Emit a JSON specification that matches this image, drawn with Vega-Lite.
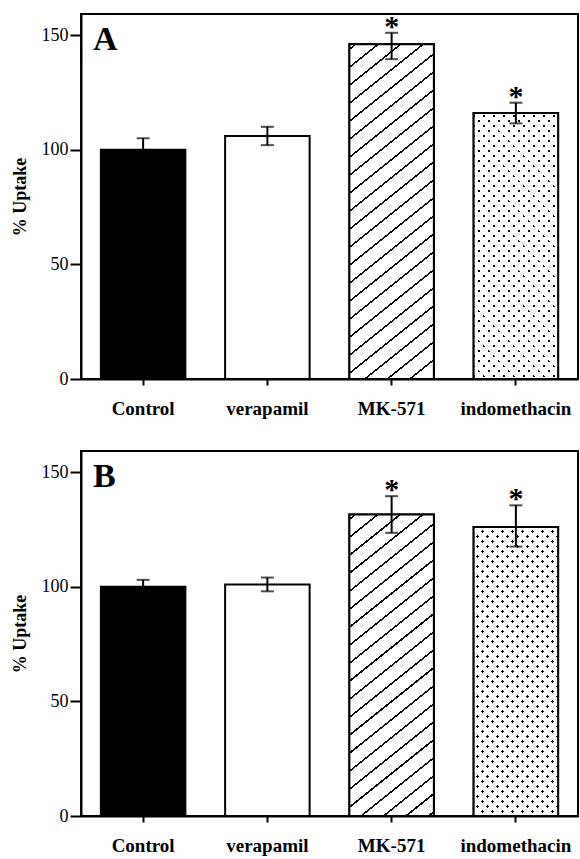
{
  "$schema": "https://vega.github.io/schema/vega-lite/v6.json",
  "padding": {"left": 10, "top": 10, "right": 0, "bottom": 0},
  "background": "white",
  "spacing": 31,
  "config": {
    "font": "Liberation Serif",
    "view": {"stroke": "black", "strokeWidth": 2},
    "axis": {"grid": false, "domainColor": "black", "domainWidth": 2, "tickColor": "black", "tickWidth": 2, "labelColor": "black", "labelFont": "Liberation Serif", "labelFontSize": 18, "titleFont": "Liberation Serif", "titleFontSize": 18, "titleFontWeight": "bold", "titleColor": "black"},
    "axisX": {"labelFont": "Liberation Serif", "labelFontWeight": "bold", "labelFontSize": 19, "labelAngle": 0, "tickSize": 6, "labelPadding": 14},
    "axisY": {"labelFont": "Liberation Serif", "titleFont": "Liberation Serif", "tickSize": 11, "labelPadding": 2, "titlePadding": 12}
  },
  "datasets": {
    "A": [
      {"group": "Control", "mean": 100, "lower": 95, "upper": 105, "sig": ""},
      {"group": "verapamil", "mean": 106, "lower": 102, "upper": 110, "sig": ""},
      {"group": "MK-571", "mean": 146, "lower": 139.5, "upper": 151, "sig": "*"},
      {"group": "indomethacin", "mean": 116, "lower": 111.5, "upper": 120.5, "sig": "*"}
    ],
    "B": [
      {"group": "Control", "mean": 100, "lower": 97, "upper": 103, "sig": ""},
      {"group": "verapamil", "mean": 101, "lower": 98, "upper": 104, "sig": ""},
      {"group": "MK-571", "mean": 131.5, "lower": 123.5, "upper": 139.5, "sig": "*"},
      {"group": "indomethacin", "mean": 126, "lower": 117.5, "upper": 135.5, "sig": "*"}
    ]
  },
  "vconcat": [
    {
      "width": 497,
      "height": 365,
      "data": {"name": "A"},
      "encoding": {
        "x": {"field": "group", "type": "nominal", "sort": ["Control", "verapamil", "MK-571", "indomethacin"], "scale": {"paddingInner": 0.32, "paddingOuter": 0.16}, "title": null}
      },
      "layer": [
        {
          "mark": {"type": "bar", "stroke": "black", "strokeWidth": 2},
          "encoding": {
            "y": {"field": "mean", "type": "quantitative", "title": "% Uptake", "scale": {"domain": [0, 159.2], "nice": false}, "axis": {"values": [0, 50, 100, 150]}},
            "fill": {"condition": {"test": "datum.group === 'Control'", "value": "black"}, "value": "white"}
          }
        },
        {
          "transform": [{"filter": "datum.group === 'MK-571'"}],
          "mark": {"type": "bar", "stroke": "black", "strokeWidth": 2, "fill": {"gradient": "linear", "x1": 0, "y1": 0, "x2": 0.2333, "y2": 1.1549, "stops": [
            {"offset": 0.0100, "color": "#fff"}, {"offset": 0.0100, "color": "#000"}, {"offset": 0.0151, "color": "#000"}, {"offset": 0.0151, "color": "#fff"},
            {"offset": 0.0547, "color": "#fff"}, {"offset": 0.0547, "color": "#000"}, {"offset": 0.0598, "color": "#000"}, {"offset": 0.0598, "color": "#fff"},
            {"offset": 0.0995, "color": "#fff"}, {"offset": 0.0995, "color": "#000"}, {"offset": 0.1046, "color": "#000"}, {"offset": 0.1046, "color": "#fff"},
            {"offset": 0.1442, "color": "#fff"}, {"offset": 0.1442, "color": "#000"}, {"offset": 0.1493, "color": "#000"}, {"offset": 0.1493, "color": "#fff"},
            {"offset": 0.1890, "color": "#fff"}, {"offset": 0.1890, "color": "#000"}, {"offset": 0.1941, "color": "#000"}, {"offset": 0.1941, "color": "#fff"},
            {"offset": 0.2337, "color": "#fff"}, {"offset": 0.2337, "color": "#000"}, {"offset": 0.2388, "color": "#000"}, {"offset": 0.2388, "color": "#fff"},
            {"offset": 0.2784, "color": "#fff"}, {"offset": 0.2784, "color": "#000"}, {"offset": 0.2835, "color": "#000"}, {"offset": 0.2835, "color": "#fff"},
            {"offset": 0.3232, "color": "#fff"}, {"offset": 0.3232, "color": "#000"}, {"offset": 0.3283, "color": "#000"}, {"offset": 0.3283, "color": "#fff"},
            {"offset": 0.3679, "color": "#fff"}, {"offset": 0.3679, "color": "#000"}, {"offset": 0.3730, "color": "#000"}, {"offset": 0.3730, "color": "#fff"},
            {"offset": 0.4127, "color": "#fff"}, {"offset": 0.4127, "color": "#000"}, {"offset": 0.4178, "color": "#000"}, {"offset": 0.4178, "color": "#fff"},
            {"offset": 0.4574, "color": "#fff"}, {"offset": 0.4574, "color": "#000"}, {"offset": 0.4625, "color": "#000"}, {"offset": 0.4625, "color": "#fff"},
            {"offset": 0.5021, "color": "#fff"}, {"offset": 0.5021, "color": "#000"}, {"offset": 0.5072, "color": "#000"}, {"offset": 0.5072, "color": "#fff"},
            {"offset": 0.5469, "color": "#fff"}, {"offset": 0.5469, "color": "#000"}, {"offset": 0.5520, "color": "#000"}, {"offset": 0.5520, "color": "#fff"},
            {"offset": 0.5916, "color": "#fff"}, {"offset": 0.5916, "color": "#000"}, {"offset": 0.5967, "color": "#000"}, {"offset": 0.5967, "color": "#fff"},
            {"offset": 0.6364, "color": "#fff"}, {"offset": 0.6364, "color": "#000"}, {"offset": 0.6415, "color": "#000"}, {"offset": 0.6415, "color": "#fff"},
            {"offset": 0.6811, "color": "#fff"}, {"offset": 0.6811, "color": "#000"}, {"offset": 0.6862, "color": "#000"}, {"offset": 0.6862, "color": "#fff"},
            {"offset": 0.7258, "color": "#fff"}, {"offset": 0.7258, "color": "#000"}, {"offset": 0.7309, "color": "#000"}, {"offset": 0.7309, "color": "#fff"},
            {"offset": 0.7706, "color": "#fff"}, {"offset": 0.7706, "color": "#000"}, {"offset": 0.7757, "color": "#000"}, {"offset": 0.7757, "color": "#fff"},
            {"offset": 0.8153, "color": "#fff"}, {"offset": 0.8153, "color": "#000"}, {"offset": 0.8204, "color": "#000"}, {"offset": 0.8204, "color": "#fff"},
            {"offset": 0.8601, "color": "#fff"}, {"offset": 0.8601, "color": "#000"}, {"offset": 0.8652, "color": "#000"}, {"offset": 0.8652, "color": "#fff"},
            {"offset": 0.9048, "color": "#fff"}, {"offset": 0.9048, "color": "#000"}, {"offset": 0.9099, "color": "#000"}, {"offset": 0.9099, "color": "#fff"},
            {"offset": 0.9495, "color": "#fff"}, {"offset": 0.9495, "color": "#000"}, {"offset": 0.9546, "color": "#000"}, {"offset": 0.9546, "color": "#fff"},
            {"offset": 0.9943, "color": "#fff"}, {"offset": 0.9943, "color": "#000"}, {"offset": 0.9994, "color": "#000"}, {"offset": 0.9994, "color": "#fff"}
          ]}},
          "encoding": {
            "y": {"field": "mean", "type": "quantitative", "title": "% Uptake", "scale": {"domain": [0, 159.2], "nice": false}, "axis": {"values": [0, 50, 100, 150]}}
          }
        },
        {
          "transform": [{"filter": "datum.group === 'indomethacin'"}],
          "mark": {"type": "bar", "strokeWidth": 0, "fill": {"gradient": "linear", "x1": 0, "y1": 0, "x2": 0.3803, "y2": 1.1969, "stops": [
            {"offset": 0.0050, "color": "#fff"}, {"offset": 0.0050, "color": "#000"}, {"offset": 0.0125, "color": "#000"}, {"offset": 0.0125, "color": "#fff"},
            {"offset": 0.0335, "color": "#fff"}, {"offset": 0.0335, "color": "#000"}, {"offset": 0.0410, "color": "#000"}, {"offset": 0.0410, "color": "#fff"},
            {"offset": 0.0621, "color": "#fff"}, {"offset": 0.0621, "color": "#000"}, {"offset": 0.0696, "color": "#000"}, {"offset": 0.0696, "color": "#fff"},
            {"offset": 0.0906, "color": "#fff"}, {"offset": 0.0906, "color": "#000"}, {"offset": 0.0981, "color": "#000"}, {"offset": 0.0981, "color": "#fff"},
            {"offset": 0.1191, "color": "#fff"}, {"offset": 0.1191, "color": "#000"}, {"offset": 0.1266, "color": "#000"}, {"offset": 0.1266, "color": "#fff"},
            {"offset": 0.1477, "color": "#fff"}, {"offset": 0.1477, "color": "#000"}, {"offset": 0.1552, "color": "#000"}, {"offset": 0.1552, "color": "#fff"},
            {"offset": 0.1762, "color": "#fff"}, {"offset": 0.1762, "color": "#000"}, {"offset": 0.1837, "color": "#000"}, {"offset": 0.1837, "color": "#fff"},
            {"offset": 0.2047, "color": "#fff"}, {"offset": 0.2047, "color": "#000"}, {"offset": 0.2122, "color": "#000"}, {"offset": 0.2122, "color": "#fff"},
            {"offset": 0.2333, "color": "#fff"}, {"offset": 0.2333, "color": "#000"}, {"offset": 0.2408, "color": "#000"}, {"offset": 0.2408, "color": "#fff"},
            {"offset": 0.2618, "color": "#fff"}, {"offset": 0.2618, "color": "#000"}, {"offset": 0.2693, "color": "#000"}, {"offset": 0.2693, "color": "#fff"},
            {"offset": 0.2904, "color": "#fff"}, {"offset": 0.2904, "color": "#000"}, {"offset": 0.2979, "color": "#000"}, {"offset": 0.2979, "color": "#fff"},
            {"offset": 0.3189, "color": "#fff"}, {"offset": 0.3189, "color": "#000"}, {"offset": 0.3264, "color": "#000"}, {"offset": 0.3264, "color": "#fff"},
            {"offset": 0.3474, "color": "#fff"}, {"offset": 0.3474, "color": "#000"}, {"offset": 0.3549, "color": "#000"}, {"offset": 0.3549, "color": "#fff"},
            {"offset": 0.3760, "color": "#fff"}, {"offset": 0.3760, "color": "#000"}, {"offset": 0.3835, "color": "#000"}, {"offset": 0.3835, "color": "#fff"},
            {"offset": 0.4045, "color": "#fff"}, {"offset": 0.4045, "color": "#000"}, {"offset": 0.4120, "color": "#000"}, {"offset": 0.4120, "color": "#fff"},
            {"offset": 0.4330, "color": "#fff"}, {"offset": 0.4330, "color": "#000"}, {"offset": 0.4405, "color": "#000"}, {"offset": 0.4405, "color": "#fff"},
            {"offset": 0.4616, "color": "#fff"}, {"offset": 0.4616, "color": "#000"}, {"offset": 0.4691, "color": "#000"}, {"offset": 0.4691, "color": "#fff"},
            {"offset": 0.4901, "color": "#fff"}, {"offset": 0.4901, "color": "#000"}, {"offset": 0.4976, "color": "#000"}, {"offset": 0.4976, "color": "#fff"},
            {"offset": 0.5186, "color": "#fff"}, {"offset": 0.5186, "color": "#000"}, {"offset": 0.5261, "color": "#000"}, {"offset": 0.5261, "color": "#fff"},
            {"offset": 0.5472, "color": "#fff"}, {"offset": 0.5472, "color": "#000"}, {"offset": 0.5547, "color": "#000"}, {"offset": 0.5547, "color": "#fff"},
            {"offset": 0.5757, "color": "#fff"}, {"offset": 0.5757, "color": "#000"}, {"offset": 0.5832, "color": "#000"}, {"offset": 0.5832, "color": "#fff"},
            {"offset": 0.6042, "color": "#fff"}, {"offset": 0.6042, "color": "#000"}, {"offset": 0.6117, "color": "#000"}, {"offset": 0.6117, "color": "#fff"},
            {"offset": 0.6328, "color": "#fff"}, {"offset": 0.6328, "color": "#000"}, {"offset": 0.6403, "color": "#000"}, {"offset": 0.6403, "color": "#fff"},
            {"offset": 0.6613, "color": "#fff"}, {"offset": 0.6613, "color": "#000"}, {"offset": 0.6688, "color": "#000"}, {"offset": 0.6688, "color": "#fff"},
            {"offset": 0.6898, "color": "#fff"}, {"offset": 0.6898, "color": "#000"}, {"offset": 0.6973, "color": "#000"}, {"offset": 0.6973, "color": "#fff"},
            {"offset": 0.7184, "color": "#fff"}, {"offset": 0.7184, "color": "#000"}, {"offset": 0.7259, "color": "#000"}, {"offset": 0.7259, "color": "#fff"},
            {"offset": 0.7469, "color": "#fff"}, {"offset": 0.7469, "color": "#000"}, {"offset": 0.7544, "color": "#000"}, {"offset": 0.7544, "color": "#fff"},
            {"offset": 0.7754, "color": "#fff"}, {"offset": 0.7754, "color": "#000"}, {"offset": 0.7829, "color": "#000"}, {"offset": 0.7829, "color": "#fff"},
            {"offset": 0.8040, "color": "#fff"}, {"offset": 0.8040, "color": "#000"}, {"offset": 0.8115, "color": "#000"}, {"offset": 0.8115, "color": "#fff"},
            {"offset": 0.8325, "color": "#fff"}, {"offset": 0.8325, "color": "#000"}, {"offset": 0.8400, "color": "#000"}, {"offset": 0.8400, "color": "#fff"},
            {"offset": 0.8611, "color": "#fff"}, {"offset": 0.8611, "color": "#000"}, {"offset": 0.8686, "color": "#000"}, {"offset": 0.8686, "color": "#fff"},
            {"offset": 0.8896, "color": "#fff"}, {"offset": 0.8896, "color": "#000"}, {"offset": 0.8971, "color": "#000"}, {"offset": 0.8971, "color": "#fff"},
            {"offset": 0.9181, "color": "#fff"}, {"offset": 0.9181, "color": "#000"}, {"offset": 0.9256, "color": "#000"}, {"offset": 0.9256, "color": "#fff"},
            {"offset": 0.9467, "color": "#fff"}, {"offset": 0.9467, "color": "#000"}, {"offset": 0.9542, "color": "#000"}, {"offset": 0.9542, "color": "#fff"},
            {"offset": 0.9752, "color": "#fff"}, {"offset": 0.9752, "color": "#000"}, {"offset": 0.9827, "color": "#000"}, {"offset": 0.9827, "color": "#fff"}
          ]}},
          "encoding": {
            "y": {"field": "mean", "type": "quantitative", "title": "% Uptake", "scale": {"domain": [0, 159.2], "nice": false}, "axis": {"values": [0, 50, 100, 150]}}
          }
        },
        {
          "transform": [{"filter": "datum.group === 'indomethacin'"}],
          "mark": {"type": "bar", "stroke": "black", "strokeWidth": 2, "fill": {"gradient": "linear", "x1": 0, "y1": 1, "x2": 0.3803, "y2": -0.1969, "stops": [
            {"offset": 0.0050, "color": "#fff"}, {"offset": 0.0050, "color": "rgba(255,255,255,0)"}, {"offset": 0.0125, "color": "rgba(255,255,255,0)"}, {"offset": 0.0125, "color": "#fff"},
            {"offset": 0.0335, "color": "#fff"}, {"offset": 0.0335, "color": "rgba(255,255,255,0)"}, {"offset": 0.0410, "color": "rgba(255,255,255,0)"}, {"offset": 0.0410, "color": "#fff"},
            {"offset": 0.0621, "color": "#fff"}, {"offset": 0.0621, "color": "rgba(255,255,255,0)"}, {"offset": 0.0696, "color": "rgba(255,255,255,0)"}, {"offset": 0.0696, "color": "#fff"},
            {"offset": 0.0906, "color": "#fff"}, {"offset": 0.0906, "color": "rgba(255,255,255,0)"}, {"offset": 0.0981, "color": "rgba(255,255,255,0)"}, {"offset": 0.0981, "color": "#fff"},
            {"offset": 0.1191, "color": "#fff"}, {"offset": 0.1191, "color": "rgba(255,255,255,0)"}, {"offset": 0.1266, "color": "rgba(255,255,255,0)"}, {"offset": 0.1266, "color": "#fff"},
            {"offset": 0.1477, "color": "#fff"}, {"offset": 0.1477, "color": "rgba(255,255,255,0)"}, {"offset": 0.1552, "color": "rgba(255,255,255,0)"}, {"offset": 0.1552, "color": "#fff"},
            {"offset": 0.1762, "color": "#fff"}, {"offset": 0.1762, "color": "rgba(255,255,255,0)"}, {"offset": 0.1837, "color": "rgba(255,255,255,0)"}, {"offset": 0.1837, "color": "#fff"},
            {"offset": 0.2047, "color": "#fff"}, {"offset": 0.2047, "color": "rgba(255,255,255,0)"}, {"offset": 0.2122, "color": "rgba(255,255,255,0)"}, {"offset": 0.2122, "color": "#fff"},
            {"offset": 0.2333, "color": "#fff"}, {"offset": 0.2333, "color": "rgba(255,255,255,0)"}, {"offset": 0.2408, "color": "rgba(255,255,255,0)"}, {"offset": 0.2408, "color": "#fff"},
            {"offset": 0.2618, "color": "#fff"}, {"offset": 0.2618, "color": "rgba(255,255,255,0)"}, {"offset": 0.2693, "color": "rgba(255,255,255,0)"}, {"offset": 0.2693, "color": "#fff"},
            {"offset": 0.2904, "color": "#fff"}, {"offset": 0.2904, "color": "rgba(255,255,255,0)"}, {"offset": 0.2979, "color": "rgba(255,255,255,0)"}, {"offset": 0.2979, "color": "#fff"},
            {"offset": 0.3189, "color": "#fff"}, {"offset": 0.3189, "color": "rgba(255,255,255,0)"}, {"offset": 0.3264, "color": "rgba(255,255,255,0)"}, {"offset": 0.3264, "color": "#fff"},
            {"offset": 0.3474, "color": "#fff"}, {"offset": 0.3474, "color": "rgba(255,255,255,0)"}, {"offset": 0.3549, "color": "rgba(255,255,255,0)"}, {"offset": 0.3549, "color": "#fff"},
            {"offset": 0.3760, "color": "#fff"}, {"offset": 0.3760, "color": "rgba(255,255,255,0)"}, {"offset": 0.3835, "color": "rgba(255,255,255,0)"}, {"offset": 0.3835, "color": "#fff"},
            {"offset": 0.4045, "color": "#fff"}, {"offset": 0.4045, "color": "rgba(255,255,255,0)"}, {"offset": 0.4120, "color": "rgba(255,255,255,0)"}, {"offset": 0.4120, "color": "#fff"},
            {"offset": 0.4330, "color": "#fff"}, {"offset": 0.4330, "color": "rgba(255,255,255,0)"}, {"offset": 0.4405, "color": "rgba(255,255,255,0)"}, {"offset": 0.4405, "color": "#fff"},
            {"offset": 0.4616, "color": "#fff"}, {"offset": 0.4616, "color": "rgba(255,255,255,0)"}, {"offset": 0.4691, "color": "rgba(255,255,255,0)"}, {"offset": 0.4691, "color": "#fff"},
            {"offset": 0.4901, "color": "#fff"}, {"offset": 0.4901, "color": "rgba(255,255,255,0)"}, {"offset": 0.4976, "color": "rgba(255,255,255,0)"}, {"offset": 0.4976, "color": "#fff"},
            {"offset": 0.5186, "color": "#fff"}, {"offset": 0.5186, "color": "rgba(255,255,255,0)"}, {"offset": 0.5261, "color": "rgba(255,255,255,0)"}, {"offset": 0.5261, "color": "#fff"},
            {"offset": 0.5472, "color": "#fff"}, {"offset": 0.5472, "color": "rgba(255,255,255,0)"}, {"offset": 0.5547, "color": "rgba(255,255,255,0)"}, {"offset": 0.5547, "color": "#fff"},
            {"offset": 0.5757, "color": "#fff"}, {"offset": 0.5757, "color": "rgba(255,255,255,0)"}, {"offset": 0.5832, "color": "rgba(255,255,255,0)"}, {"offset": 0.5832, "color": "#fff"},
            {"offset": 0.6042, "color": "#fff"}, {"offset": 0.6042, "color": "rgba(255,255,255,0)"}, {"offset": 0.6117, "color": "rgba(255,255,255,0)"}, {"offset": 0.6117, "color": "#fff"},
            {"offset": 0.6328, "color": "#fff"}, {"offset": 0.6328, "color": "rgba(255,255,255,0)"}, {"offset": 0.6403, "color": "rgba(255,255,255,0)"}, {"offset": 0.6403, "color": "#fff"},
            {"offset": 0.6613, "color": "#fff"}, {"offset": 0.6613, "color": "rgba(255,255,255,0)"}, {"offset": 0.6688, "color": "rgba(255,255,255,0)"}, {"offset": 0.6688, "color": "#fff"},
            {"offset": 0.6898, "color": "#fff"}, {"offset": 0.6898, "color": "rgba(255,255,255,0)"}, {"offset": 0.6973, "color": "rgba(255,255,255,0)"}, {"offset": 0.6973, "color": "#fff"},
            {"offset": 0.7184, "color": "#fff"}, {"offset": 0.7184, "color": "rgba(255,255,255,0)"}, {"offset": 0.7259, "color": "rgba(255,255,255,0)"}, {"offset": 0.7259, "color": "#fff"},
            {"offset": 0.7469, "color": "#fff"}, {"offset": 0.7469, "color": "rgba(255,255,255,0)"}, {"offset": 0.7544, "color": "rgba(255,255,255,0)"}, {"offset": 0.7544, "color": "#fff"},
            {"offset": 0.7754, "color": "#fff"}, {"offset": 0.7754, "color": "rgba(255,255,255,0)"}, {"offset": 0.7829, "color": "rgba(255,255,255,0)"}, {"offset": 0.7829, "color": "#fff"},
            {"offset": 0.8040, "color": "#fff"}, {"offset": 0.8040, "color": "rgba(255,255,255,0)"}, {"offset": 0.8115, "color": "rgba(255,255,255,0)"}, {"offset": 0.8115, "color": "#fff"},
            {"offset": 0.8325, "color": "#fff"}, {"offset": 0.8325, "color": "rgba(255,255,255,0)"}, {"offset": 0.8400, "color": "rgba(255,255,255,0)"}, {"offset": 0.8400, "color": "#fff"},
            {"offset": 0.8611, "color": "#fff"}, {"offset": 0.8611, "color": "rgba(255,255,255,0)"}, {"offset": 0.8686, "color": "rgba(255,255,255,0)"}, {"offset": 0.8686, "color": "#fff"},
            {"offset": 0.8896, "color": "#fff"}, {"offset": 0.8896, "color": "rgba(255,255,255,0)"}, {"offset": 0.8971, "color": "rgba(255,255,255,0)"}, {"offset": 0.8971, "color": "#fff"},
            {"offset": 0.9181, "color": "#fff"}, {"offset": 0.9181, "color": "rgba(255,255,255,0)"}, {"offset": 0.9256, "color": "rgba(255,255,255,0)"}, {"offset": 0.9256, "color": "#fff"},
            {"offset": 0.9467, "color": "#fff"}, {"offset": 0.9467, "color": "rgba(255,255,255,0)"}, {"offset": 0.9542, "color": "rgba(255,255,255,0)"}, {"offset": 0.9542, "color": "#fff"},
            {"offset": 0.9752, "color": "#fff"}, {"offset": 0.9752, "color": "rgba(255,255,255,0)"}, {"offset": 0.9827, "color": "rgba(255,255,255,0)"}, {"offset": 0.9827, "color": "#fff"}
          ]}},
          "encoding": {
            "y": {"field": "mean", "type": "quantitative", "title": "% Uptake", "scale": {"domain": [0, 159.2], "nice": false}, "axis": {"values": [0, 50, 100, 150]}}
          }
        },
        {
          "mark": {"type": "rule", "color": "black", "strokeWidth": 2},
          "encoding": {
            "y": {"field": "lower", "type": "quantitative", "title": "% Uptake", "scale": {"domain": [0, 159.2], "nice": false}, "axis": {"values": [0, 50, 100, 150]}},
            "y2": {"field": "upper"}
          }
        },
        {
          "mark": {"type": "tick", "color": "black", "size": 13, "thickness": 2},
          "encoding": {
            "y": {"field": "upper", "type": "quantitative", "title": "% Uptake", "scale": {"domain": [0, 159.2], "nice": false}, "axis": {"values": [0, 50, 100, 150]}}
          }
        },
        {
          "mark": {"type": "tick", "color": "black", "size": 13, "thickness": 2},
          "encoding": {
            "y": {"field": "lower", "type": "quantitative", "title": "% Uptake", "scale": {"domain": [0, 159.2], "nice": false}, "axis": {"values": [0, 50, 100, 150]}}
          }
        },
        {
          "mark": {"type": "text", "font": "Liberation Serif", "fontWeight": "bold", "fontSize": 30, "color": "black", "baseline": "alphabetic", "dy": 3},
          "encoding": {
            "y": {"field": "upper", "type": "quantitative", "title": "% Uptake", "scale": {"domain": [0, 159.2], "nice": false}, "axis": {"values": [0, 50, 100, 150]}},
            "text": {"field": "sig"}
          }
        },
        {
          "data": {"values": [{"panel": "A"}]},
          "mark": {"type": "text", "font": "Liberation Serif", "fontWeight": "bold", "fontSize": 34, "color": "black", "baseline": "alphabetic", "align": "left", "dx": -8, "dy": 15},
          "encoding": {
            "x": {"datum": "Control", "bandPosition": 0},
            "y": {"datum": 150, "type": "quantitative", "title": "% Uptake", "scale": {"domain": [0, 159.2], "nice": false}, "axis": {"values": [0, 50, 100, 150]}},
            "text": {"field": "panel"}
          }
        }
      ]
    },
    {
      "width": 497,
      "height": 365,
      "data": {"name": "B"},
      "encoding": {
        "x": {"field": "group", "type": "nominal", "sort": ["Control", "verapamil", "MK-571", "indomethacin"], "scale": {"paddingInner": 0.32, "paddingOuter": 0.16}, "title": null}
      },
      "layer": [
        {
          "mark": {"type": "bar", "stroke": "black", "strokeWidth": 2},
          "encoding": {
            "y": {"field": "mean", "type": "quantitative", "title": "% Uptake", "scale": {"domain": [0, 159.2], "nice": false}, "axis": {"values": [0, 50, 100, 150]}},
            "fill": {"condition": {"test": "datum.group === 'Control'", "value": "black"}, "value": "white"}
          }
        },
        {
          "transform": [{"filter": "datum.group === 'MK-571'"}],
          "mark": {"type": "bar", "stroke": "black", "strokeWidth": 2, "fill": {"gradient": "linear", "x1": 0, "y1": 0, "x2": 0.2613, "y2": 1.1656, "stops": [
            {"offset": 0.0100, "color": "#fff"}, {"offset": 0.0100, "color": "#000"}, {"offset": 0.0156, "color": "#000"}, {"offset": 0.0156, "color": "#fff"},
            {"offset": 0.0588, "color": "#fff"}, {"offset": 0.0588, "color": "#000"}, {"offset": 0.0644, "color": "#000"}, {"offset": 0.0644, "color": "#fff"},
            {"offset": 0.1075, "color": "#fff"}, {"offset": 0.1075, "color": "#000"}, {"offset": 0.1131, "color": "#000"}, {"offset": 0.1131, "color": "#fff"},
            {"offset": 0.1563, "color": "#fff"}, {"offset": 0.1563, "color": "#000"}, {"offset": 0.1619, "color": "#000"}, {"offset": 0.1619, "color": "#fff"},
            {"offset": 0.2051, "color": "#fff"}, {"offset": 0.2051, "color": "#000"}, {"offset": 0.2107, "color": "#000"}, {"offset": 0.2107, "color": "#fff"},
            {"offset": 0.2539, "color": "#fff"}, {"offset": 0.2539, "color": "#000"}, {"offset": 0.2595, "color": "#000"}, {"offset": 0.2595, "color": "#fff"},
            {"offset": 0.3026, "color": "#fff"}, {"offset": 0.3026, "color": "#000"}, {"offset": 0.3082, "color": "#000"}, {"offset": 0.3082, "color": "#fff"},
            {"offset": 0.3514, "color": "#fff"}, {"offset": 0.3514, "color": "#000"}, {"offset": 0.3570, "color": "#000"}, {"offset": 0.3570, "color": "#fff"},
            {"offset": 0.4002, "color": "#fff"}, {"offset": 0.4002, "color": "#000"}, {"offset": 0.4058, "color": "#000"}, {"offset": 0.4058, "color": "#fff"},
            {"offset": 0.4489, "color": "#fff"}, {"offset": 0.4489, "color": "#000"}, {"offset": 0.4545, "color": "#000"}, {"offset": 0.4545, "color": "#fff"},
            {"offset": 0.4977, "color": "#fff"}, {"offset": 0.4977, "color": "#000"}, {"offset": 0.5033, "color": "#000"}, {"offset": 0.5033, "color": "#fff"},
            {"offset": 0.5465, "color": "#fff"}, {"offset": 0.5465, "color": "#000"}, {"offset": 0.5521, "color": "#000"}, {"offset": 0.5521, "color": "#fff"},
            {"offset": 0.5952, "color": "#fff"}, {"offset": 0.5952, "color": "#000"}, {"offset": 0.6008, "color": "#000"}, {"offset": 0.6008, "color": "#fff"},
            {"offset": 0.6440, "color": "#fff"}, {"offset": 0.6440, "color": "#000"}, {"offset": 0.6496, "color": "#000"}, {"offset": 0.6496, "color": "#fff"},
            {"offset": 0.6928, "color": "#fff"}, {"offset": 0.6928, "color": "#000"}, {"offset": 0.6984, "color": "#000"}, {"offset": 0.6984, "color": "#fff"},
            {"offset": 0.7416, "color": "#fff"}, {"offset": 0.7416, "color": "#000"}, {"offset": 0.7472, "color": "#000"}, {"offset": 0.7472, "color": "#fff"},
            {"offset": 0.7903, "color": "#fff"}, {"offset": 0.7903, "color": "#000"}, {"offset": 0.7959, "color": "#000"}, {"offset": 0.7959, "color": "#fff"},
            {"offset": 0.8391, "color": "#fff"}, {"offset": 0.8391, "color": "#000"}, {"offset": 0.8447, "color": "#000"}, {"offset": 0.8447, "color": "#fff"},
            {"offset": 0.8879, "color": "#fff"}, {"offset": 0.8879, "color": "#000"}, {"offset": 0.8935, "color": "#000"}, {"offset": 0.8935, "color": "#fff"},
            {"offset": 0.9366, "color": "#fff"}, {"offset": 0.9366, "color": "#000"}, {"offset": 0.9422, "color": "#000"}, {"offset": 0.9422, "color": "#fff"},
            {"offset": 0.9854, "color": "#fff"}, {"offset": 0.9854, "color": "#000"}, {"offset": 0.9910, "color": "#000"}, {"offset": 0.9910, "color": "#fff"}
          ]}},
          "encoding": {
            "y": {"field": "mean", "type": "quantitative", "title": "% Uptake", "scale": {"domain": [0, 159.2], "nice": false}, "axis": {"values": [0, 50, 100, 150]}}
          }
        },
        {
          "transform": [{"filter": "datum.group === 'indomethacin'"}],
          "mark": {"type": "bar", "strokeWidth": 0, "fill": {"gradient": "linear", "x1": 0, "y1": 0, "x2": 0.3483, "y2": 1.1906, "stops": [
            {"offset": 0.0050, "color": "#fff"}, {"offset": 0.0050, "color": "#000"}, {"offset": 0.0120, "color": "#000"}, {"offset": 0.0120, "color": "#fff"},
            {"offset": 0.0318, "color": "#fff"}, {"offset": 0.0318, "color": "#000"}, {"offset": 0.0388, "color": "#000"}, {"offset": 0.0388, "color": "#fff"},
            {"offset": 0.0586, "color": "#fff"}, {"offset": 0.0586, "color": "#000"}, {"offset": 0.0656, "color": "#000"}, {"offset": 0.0656, "color": "#fff"},
            {"offset": 0.0853, "color": "#fff"}, {"offset": 0.0853, "color": "#000"}, {"offset": 0.0923, "color": "#000"}, {"offset": 0.0923, "color": "#fff"},
            {"offset": 0.1121, "color": "#fff"}, {"offset": 0.1121, "color": "#000"}, {"offset": 0.1191, "color": "#000"}, {"offset": 0.1191, "color": "#fff"},
            {"offset": 0.1389, "color": "#fff"}, {"offset": 0.1389, "color": "#000"}, {"offset": 0.1459, "color": "#000"}, {"offset": 0.1459, "color": "#fff"},
            {"offset": 0.1657, "color": "#fff"}, {"offset": 0.1657, "color": "#000"}, {"offset": 0.1727, "color": "#000"}, {"offset": 0.1727, "color": "#fff"},
            {"offset": 0.1925, "color": "#fff"}, {"offset": 0.1925, "color": "#000"}, {"offset": 0.1995, "color": "#000"}, {"offset": 0.1995, "color": "#fff"},
            {"offset": 0.2192, "color": "#fff"}, {"offset": 0.2192, "color": "#000"}, {"offset": 0.2262, "color": "#000"}, {"offset": 0.2262, "color": "#fff"},
            {"offset": 0.2460, "color": "#fff"}, {"offset": 0.2460, "color": "#000"}, {"offset": 0.2530, "color": "#000"}, {"offset": 0.2530, "color": "#fff"},
            {"offset": 0.2728, "color": "#fff"}, {"offset": 0.2728, "color": "#000"}, {"offset": 0.2798, "color": "#000"}, {"offset": 0.2798, "color": "#fff"},
            {"offset": 0.2996, "color": "#fff"}, {"offset": 0.2996, "color": "#000"}, {"offset": 0.3066, "color": "#000"}, {"offset": 0.3066, "color": "#fff"},
            {"offset": 0.3264, "color": "#fff"}, {"offset": 0.3264, "color": "#000"}, {"offset": 0.3334, "color": "#000"}, {"offset": 0.3334, "color": "#fff"},
            {"offset": 0.3532, "color": "#fff"}, {"offset": 0.3532, "color": "#000"}, {"offset": 0.3602, "color": "#000"}, {"offset": 0.3602, "color": "#fff"},
            {"offset": 0.3799, "color": "#fff"}, {"offset": 0.3799, "color": "#000"}, {"offset": 0.3869, "color": "#000"}, {"offset": 0.3869, "color": "#fff"},
            {"offset": 0.4067, "color": "#fff"}, {"offset": 0.4067, "color": "#000"}, {"offset": 0.4137, "color": "#000"}, {"offset": 0.4137, "color": "#fff"},
            {"offset": 0.4335, "color": "#fff"}, {"offset": 0.4335, "color": "#000"}, {"offset": 0.4405, "color": "#000"}, {"offset": 0.4405, "color": "#fff"},
            {"offset": 0.4603, "color": "#fff"}, {"offset": 0.4603, "color": "#000"}, {"offset": 0.4673, "color": "#000"}, {"offset": 0.4673, "color": "#fff"},
            {"offset": 0.4871, "color": "#fff"}, {"offset": 0.4871, "color": "#000"}, {"offset": 0.4941, "color": "#000"}, {"offset": 0.4941, "color": "#fff"},
            {"offset": 0.5138, "color": "#fff"}, {"offset": 0.5138, "color": "#000"}, {"offset": 0.5208, "color": "#000"}, {"offset": 0.5208, "color": "#fff"},
            {"offset": 0.5406, "color": "#fff"}, {"offset": 0.5406, "color": "#000"}, {"offset": 0.5476, "color": "#000"}, {"offset": 0.5476, "color": "#fff"},
            {"offset": 0.5674, "color": "#fff"}, {"offset": 0.5674, "color": "#000"}, {"offset": 0.5744, "color": "#000"}, {"offset": 0.5744, "color": "#fff"},
            {"offset": 0.5942, "color": "#fff"}, {"offset": 0.5942, "color": "#000"}, {"offset": 0.6012, "color": "#000"}, {"offset": 0.6012, "color": "#fff"},
            {"offset": 0.6210, "color": "#fff"}, {"offset": 0.6210, "color": "#000"}, {"offset": 0.6280, "color": "#000"}, {"offset": 0.6280, "color": "#fff"},
            {"offset": 0.6477, "color": "#fff"}, {"offset": 0.6477, "color": "#000"}, {"offset": 0.6547, "color": "#000"}, {"offset": 0.6547, "color": "#fff"},
            {"offset": 0.6745, "color": "#fff"}, {"offset": 0.6745, "color": "#000"}, {"offset": 0.6815, "color": "#000"}, {"offset": 0.6815, "color": "#fff"},
            {"offset": 0.7013, "color": "#fff"}, {"offset": 0.7013, "color": "#000"}, {"offset": 0.7083, "color": "#000"}, {"offset": 0.7083, "color": "#fff"},
            {"offset": 0.7281, "color": "#fff"}, {"offset": 0.7281, "color": "#000"}, {"offset": 0.7351, "color": "#000"}, {"offset": 0.7351, "color": "#fff"},
            {"offset": 0.7549, "color": "#fff"}, {"offset": 0.7549, "color": "#000"}, {"offset": 0.7619, "color": "#000"}, {"offset": 0.7619, "color": "#fff"},
            {"offset": 0.7816, "color": "#fff"}, {"offset": 0.7816, "color": "#000"}, {"offset": 0.7886, "color": "#000"}, {"offset": 0.7886, "color": "#fff"},
            {"offset": 0.8084, "color": "#fff"}, {"offset": 0.8084, "color": "#000"}, {"offset": 0.8154, "color": "#000"}, {"offset": 0.8154, "color": "#fff"},
            {"offset": 0.8352, "color": "#fff"}, {"offset": 0.8352, "color": "#000"}, {"offset": 0.8422, "color": "#000"}, {"offset": 0.8422, "color": "#fff"},
            {"offset": 0.8620, "color": "#fff"}, {"offset": 0.8620, "color": "#000"}, {"offset": 0.8690, "color": "#000"}, {"offset": 0.8690, "color": "#fff"},
            {"offset": 0.8888, "color": "#fff"}, {"offset": 0.8888, "color": "#000"}, {"offset": 0.8958, "color": "#000"}, {"offset": 0.8958, "color": "#fff"},
            {"offset": 0.9156, "color": "#fff"}, {"offset": 0.9156, "color": "#000"}, {"offset": 0.9226, "color": "#000"}, {"offset": 0.9226, "color": "#fff"},
            {"offset": 0.9423, "color": "#fff"}, {"offset": 0.9423, "color": "#000"}, {"offset": 0.9493, "color": "#000"}, {"offset": 0.9493, "color": "#fff"},
            {"offset": 0.9691, "color": "#fff"}, {"offset": 0.9691, "color": "#000"}, {"offset": 0.9761, "color": "#000"}, {"offset": 0.9761, "color": "#fff"}
          ]}},
          "encoding": {
            "y": {"field": "mean", "type": "quantitative", "title": "% Uptake", "scale": {"domain": [0, 159.2], "nice": false}, "axis": {"values": [0, 50, 100, 150]}}
          }
        },
        {
          "transform": [{"filter": "datum.group === 'indomethacin'"}],
          "mark": {"type": "bar", "stroke": "black", "strokeWidth": 2, "fill": {"gradient": "linear", "x1": 0, "y1": 1, "x2": 0.3483, "y2": -0.1906, "stops": [
            {"offset": 0.0050, "color": "#fff"}, {"offset": 0.0050, "color": "rgba(255,255,255,0)"}, {"offset": 0.0120, "color": "rgba(255,255,255,0)"}, {"offset": 0.0120, "color": "#fff"},
            {"offset": 0.0318, "color": "#fff"}, {"offset": 0.0318, "color": "rgba(255,255,255,0)"}, {"offset": 0.0388, "color": "rgba(255,255,255,0)"}, {"offset": 0.0388, "color": "#fff"},
            {"offset": 0.0586, "color": "#fff"}, {"offset": 0.0586, "color": "rgba(255,255,255,0)"}, {"offset": 0.0656, "color": "rgba(255,255,255,0)"}, {"offset": 0.0656, "color": "#fff"},
            {"offset": 0.0853, "color": "#fff"}, {"offset": 0.0853, "color": "rgba(255,255,255,0)"}, {"offset": 0.0923, "color": "rgba(255,255,255,0)"}, {"offset": 0.0923, "color": "#fff"},
            {"offset": 0.1121, "color": "#fff"}, {"offset": 0.1121, "color": "rgba(255,255,255,0)"}, {"offset": 0.1191, "color": "rgba(255,255,255,0)"}, {"offset": 0.1191, "color": "#fff"},
            {"offset": 0.1389, "color": "#fff"}, {"offset": 0.1389, "color": "rgba(255,255,255,0)"}, {"offset": 0.1459, "color": "rgba(255,255,255,0)"}, {"offset": 0.1459, "color": "#fff"},
            {"offset": 0.1657, "color": "#fff"}, {"offset": 0.1657, "color": "rgba(255,255,255,0)"}, {"offset": 0.1727, "color": "rgba(255,255,255,0)"}, {"offset": 0.1727, "color": "#fff"},
            {"offset": 0.1925, "color": "#fff"}, {"offset": 0.1925, "color": "rgba(255,255,255,0)"}, {"offset": 0.1995, "color": "rgba(255,255,255,0)"}, {"offset": 0.1995, "color": "#fff"},
            {"offset": 0.2192, "color": "#fff"}, {"offset": 0.2192, "color": "rgba(255,255,255,0)"}, {"offset": 0.2262, "color": "rgba(255,255,255,0)"}, {"offset": 0.2262, "color": "#fff"},
            {"offset": 0.2460, "color": "#fff"}, {"offset": 0.2460, "color": "rgba(255,255,255,0)"}, {"offset": 0.2530, "color": "rgba(255,255,255,0)"}, {"offset": 0.2530, "color": "#fff"},
            {"offset": 0.2728, "color": "#fff"}, {"offset": 0.2728, "color": "rgba(255,255,255,0)"}, {"offset": 0.2798, "color": "rgba(255,255,255,0)"}, {"offset": 0.2798, "color": "#fff"},
            {"offset": 0.2996, "color": "#fff"}, {"offset": 0.2996, "color": "rgba(255,255,255,0)"}, {"offset": 0.3066, "color": "rgba(255,255,255,0)"}, {"offset": 0.3066, "color": "#fff"},
            {"offset": 0.3264, "color": "#fff"}, {"offset": 0.3264, "color": "rgba(255,255,255,0)"}, {"offset": 0.3334, "color": "rgba(255,255,255,0)"}, {"offset": 0.3334, "color": "#fff"},
            {"offset": 0.3532, "color": "#fff"}, {"offset": 0.3532, "color": "rgba(255,255,255,0)"}, {"offset": 0.3602, "color": "rgba(255,255,255,0)"}, {"offset": 0.3602, "color": "#fff"},
            {"offset": 0.3799, "color": "#fff"}, {"offset": 0.3799, "color": "rgba(255,255,255,0)"}, {"offset": 0.3869, "color": "rgba(255,255,255,0)"}, {"offset": 0.3869, "color": "#fff"},
            {"offset": 0.4067, "color": "#fff"}, {"offset": 0.4067, "color": "rgba(255,255,255,0)"}, {"offset": 0.4137, "color": "rgba(255,255,255,0)"}, {"offset": 0.4137, "color": "#fff"},
            {"offset": 0.4335, "color": "#fff"}, {"offset": 0.4335, "color": "rgba(255,255,255,0)"}, {"offset": 0.4405, "color": "rgba(255,255,255,0)"}, {"offset": 0.4405, "color": "#fff"},
            {"offset": 0.4603, "color": "#fff"}, {"offset": 0.4603, "color": "rgba(255,255,255,0)"}, {"offset": 0.4673, "color": "rgba(255,255,255,0)"}, {"offset": 0.4673, "color": "#fff"},
            {"offset": 0.4871, "color": "#fff"}, {"offset": 0.4871, "color": "rgba(255,255,255,0)"}, {"offset": 0.4941, "color": "rgba(255,255,255,0)"}, {"offset": 0.4941, "color": "#fff"},
            {"offset": 0.5138, "color": "#fff"}, {"offset": 0.5138, "color": "rgba(255,255,255,0)"}, {"offset": 0.5208, "color": "rgba(255,255,255,0)"}, {"offset": 0.5208, "color": "#fff"},
            {"offset": 0.5406, "color": "#fff"}, {"offset": 0.5406, "color": "rgba(255,255,255,0)"}, {"offset": 0.5476, "color": "rgba(255,255,255,0)"}, {"offset": 0.5476, "color": "#fff"},
            {"offset": 0.5674, "color": "#fff"}, {"offset": 0.5674, "color": "rgba(255,255,255,0)"}, {"offset": 0.5744, "color": "rgba(255,255,255,0)"}, {"offset": 0.5744, "color": "#fff"},
            {"offset": 0.5942, "color": "#fff"}, {"offset": 0.5942, "color": "rgba(255,255,255,0)"}, {"offset": 0.6012, "color": "rgba(255,255,255,0)"}, {"offset": 0.6012, "color": "#fff"},
            {"offset": 0.6210, "color": "#fff"}, {"offset": 0.6210, "color": "rgba(255,255,255,0)"}, {"offset": 0.6280, "color": "rgba(255,255,255,0)"}, {"offset": 0.6280, "color": "#fff"},
            {"offset": 0.6477, "color": "#fff"}, {"offset": 0.6477, "color": "rgba(255,255,255,0)"}, {"offset": 0.6547, "color": "rgba(255,255,255,0)"}, {"offset": 0.6547, "color": "#fff"},
            {"offset": 0.6745, "color": "#fff"}, {"offset": 0.6745, "color": "rgba(255,255,255,0)"}, {"offset": 0.6815, "color": "rgba(255,255,255,0)"}, {"offset": 0.6815, "color": "#fff"},
            {"offset": 0.7013, "color": "#fff"}, {"offset": 0.7013, "color": "rgba(255,255,255,0)"}, {"offset": 0.7083, "color": "rgba(255,255,255,0)"}, {"offset": 0.7083, "color": "#fff"},
            {"offset": 0.7281, "color": "#fff"}, {"offset": 0.7281, "color": "rgba(255,255,255,0)"}, {"offset": 0.7351, "color": "rgba(255,255,255,0)"}, {"offset": 0.7351, "color": "#fff"},
            {"offset": 0.7549, "color": "#fff"}, {"offset": 0.7549, "color": "rgba(255,255,255,0)"}, {"offset": 0.7619, "color": "rgba(255,255,255,0)"}, {"offset": 0.7619, "color": "#fff"},
            {"offset": 0.7816, "color": "#fff"}, {"offset": 0.7816, "color": "rgba(255,255,255,0)"}, {"offset": 0.7886, "color": "rgba(255,255,255,0)"}, {"offset": 0.7886, "color": "#fff"},
            {"offset": 0.8084, "color": "#fff"}, {"offset": 0.8084, "color": "rgba(255,255,255,0)"}, {"offset": 0.8154, "color": "rgba(255,255,255,0)"}, {"offset": 0.8154, "color": "#fff"},
            {"offset": 0.8352, "color": "#fff"}, {"offset": 0.8352, "color": "rgba(255,255,255,0)"}, {"offset": 0.8422, "color": "rgba(255,255,255,0)"}, {"offset": 0.8422, "color": "#fff"},
            {"offset": 0.8620, "color": "#fff"}, {"offset": 0.8620, "color": "rgba(255,255,255,0)"}, {"offset": 0.8690, "color": "rgba(255,255,255,0)"}, {"offset": 0.8690, "color": "#fff"},
            {"offset": 0.8888, "color": "#fff"}, {"offset": 0.8888, "color": "rgba(255,255,255,0)"}, {"offset": 0.8958, "color": "rgba(255,255,255,0)"}, {"offset": 0.8958, "color": "#fff"},
            {"offset": 0.9156, "color": "#fff"}, {"offset": 0.9156, "color": "rgba(255,255,255,0)"}, {"offset": 0.9226, "color": "rgba(255,255,255,0)"}, {"offset": 0.9226, "color": "#fff"},
            {"offset": 0.9423, "color": "#fff"}, {"offset": 0.9423, "color": "rgba(255,255,255,0)"}, {"offset": 0.9493, "color": "rgba(255,255,255,0)"}, {"offset": 0.9493, "color": "#fff"},
            {"offset": 0.9691, "color": "#fff"}, {"offset": 0.9691, "color": "rgba(255,255,255,0)"}, {"offset": 0.9761, "color": "rgba(255,255,255,0)"}, {"offset": 0.9761, "color": "#fff"}
          ]}},
          "encoding": {
            "y": {"field": "mean", "type": "quantitative", "title": "% Uptake", "scale": {"domain": [0, 159.2], "nice": false}, "axis": {"values": [0, 50, 100, 150]}}
          }
        },
        {
          "mark": {"type": "rule", "color": "black", "strokeWidth": 2},
          "encoding": {
            "y": {"field": "lower", "type": "quantitative", "title": "% Uptake", "scale": {"domain": [0, 159.2], "nice": false}, "axis": {"values": [0, 50, 100, 150]}},
            "y2": {"field": "upper"}
          }
        },
        {
          "mark": {"type": "tick", "color": "black", "size": 13, "thickness": 2},
          "encoding": {
            "y": {"field": "upper", "type": "quantitative", "title": "% Uptake", "scale": {"domain": [0, 159.2], "nice": false}, "axis": {"values": [0, 50, 100, 150]}}
          }
        },
        {
          "mark": {"type": "tick", "color": "black", "size": 13, "thickness": 2},
          "encoding": {
            "y": {"field": "lower", "type": "quantitative", "title": "% Uptake", "scale": {"domain": [0, 159.2], "nice": false}, "axis": {"values": [0, 50, 100, 150]}}
          }
        },
        {
          "mark": {"type": "text", "font": "Liberation Serif", "fontWeight": "bold", "fontSize": 30, "color": "black", "baseline": "alphabetic", "dy": 3},
          "encoding": {
            "y": {"field": "upper", "type": "quantitative", "title": "% Uptake", "scale": {"domain": [0, 159.2], "nice": false}, "axis": {"values": [0, 50, 100, 150]}},
            "text": {"field": "sig"}
          }
        },
        {
          "data": {"values": [{"panel": "B"}]},
          "mark": {"type": "text", "font": "Liberation Serif", "fontWeight": "bold", "fontSize": 34, "color": "black", "baseline": "alphabetic", "align": "left", "dx": -8, "dy": 15},
          "encoding": {
            "x": {"datum": "Control", "bandPosition": 0},
            "y": {"datum": 150, "type": "quantitative", "title": "% Uptake", "scale": {"domain": [0, 159.2], "nice": false}, "axis": {"values": [0, 50, 100, 150]}},
            "text": {"field": "panel"}
          }
        }
      ]
    }
  ]
}
